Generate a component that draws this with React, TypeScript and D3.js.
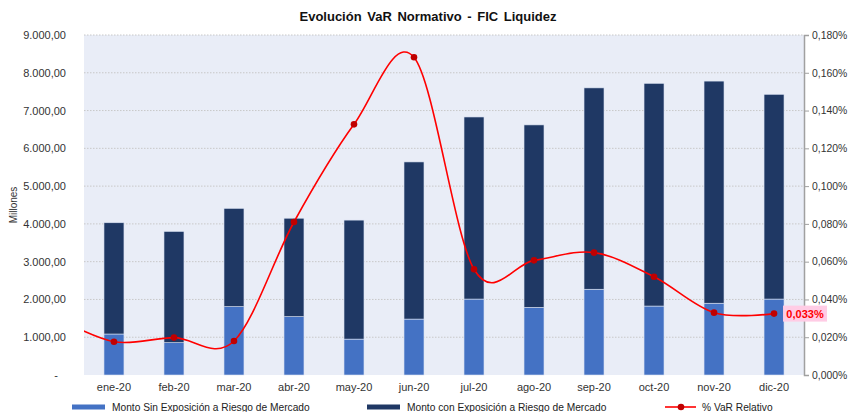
import React, { useRef, useEffect } from "react";
import * as d3 from "d3";

const months = ["ene-20", "feb-20", "mar-20", "abr-20", "may-20", "jun-20", "jul-20", "ago-20", "sep-20", "oct-20", "nov-20", "dic-20"];
// Millones
const sinExposicion = [1085, 855, 1810, 1545, 950, 1480, 2010, 1790, 2270, 1825, 1900, 2010];
const conExposicion = [2945, 2945, 2600, 2605, 3150, 4160, 4820, 4830, 5330, 5895, 5880, 5420];
// % VaR relativo
const varRelativo = [0.0176, 0.0198, 0.018, 0.081, 0.1327, 0.1682, 0.056, 0.0607, 0.0648, 0.052, 0.033, 0.0325];
const varPrevio = 0.031; // dic-19, only the tail of the curve shows
const leftTicks = [0, 1000, 2000, 3000, 4000, 5000, 6000, 7000, 8000, 9000];
const rightTicks = [0, 0.02, 0.04, 0.06, 0.08, 0.1, 0.12, 0.14, 0.16, 0.18];

const W = 848;
const H = 412;

const App = () => {
  const svgRef = useRef(null);

  useEffect(() => {
    const svg = d3.select(svgRef.current);
    svg.selectAll("*").remove();
    const margin = { top: 35, right: 44, bottom: 37, left: 84 };
    const width = W - margin.left - margin.right;
    const height = H - margin.top - margin.bottom;
    const font = "Liberation Sans, Arial, sans-serif";

    svg
      .append("text")
      .attr("x", 428)
      .attr("y", 21)
      .attr("text-anchor", "middle")
      .style("font-family", font)
      .style("font-size", "13px")
      .style("font-weight", "bold")
      .style("word-spacing", "2px")
      .attr("fill", "#111")
      .text("Evolución VaR Normativo - FIC Liquidez");

    const chart = svg.append("g").attr("transform", `translate(${margin.left},${margin.top})`);

    const x = d3.scaleBand().domain(months).range([0, width]).paddingInner(0.667).paddingOuter(0.333);
    const y = d3.scaleLinear().domain([0, 9000]).range([height, 0]);
    const yR = d3.scaleLinear().domain([0, 0.18]).range([height, 0]);

    chart.append("rect").attr("width", width).attr("height", height).attr("fill", "#E9EDF7");

    chart
      .selectAll(".grid")
      .data(leftTicks.slice(1))
      .enter()
      .append("line")
      .attr("x1", 0)
      .attr("x2", width)
      .attr("y1", (d) => y(d))
      .attr("y2", (d) => y(d))
      .attr("stroke", "#C8C8C8")
      .attr("stroke-dasharray", "1.5,1.5");

    // left axis
    const axL = chart
      .append("g")
      .call(
        d3
          .axisLeft(y)
          .tickValues(leftTicks)
          .tickSize(0)
          .tickPadding(18)
          .tickFormat((d) => (d === 0 ? "-" : d3.format(",.2f")(d).replace(/,/g, "#").replace(".", ",").replace(/#/g, ".")))
      );
    axL.select(".domain").remove();
    axL.selectAll("text").style("font-family", font).style("font-size", "11px").attr("fill", "#333");
    axL.selectAll(".tick").filter((d) => d === 0).select("text").attr("dx", -8);

    // right axis
    const axR = chart
      .append("g")
      .attr("transform", `translate(${width},0)`)
      .call(
        d3
          .axisRight(yR)
          .tickValues(rightTicks)
          .tickSize(5)
          .tickPadding(3)
          .tickFormat((d) => d3.format(".3f")(d).replace(".", ",") + "%")
      );
    axR.select(".domain").attr("stroke", "#A0A0A0").attr("stroke-width", 1.5);
    axR.selectAll("line").attr("stroke", "#A0A0A0");
    axR.selectAll("text").style("font-family", font).style("font-size", "10.4px").attr("fill", "#333");

    // x axis labels
    const axB = chart
      .append("g")
      .attr("transform", `translate(0,${height})`)
      .call(d3.axisBottom(x).tickSize(0).tickPadding(8));
    axB.select(".domain").remove();
    axB.selectAll("text").style("font-family", font).style("font-size", "11px").attr("fill", "#333");

    // stacked bars
    const rows = months.map((m, i) => ({ m, a: sinExposicion[i], b: conExposicion[i] }));
    const stacked = d3.stack().keys(["a", "b"])(rows);
    const colors = ["#4472C4", "#1F3864"];
    stacked.forEach((layer, li) => {
      chart
        .selectAll(".bar" + li)
        .data(layer)
        .enter()
        .append("rect")
        .attr("x", (d) => x(d.data.m))
        .attr("y", (d) => y(d[1]))
        .attr("width", x.bandwidth())
        .attr("height", (d) => y(d[0]) - y(d[1]))
        .attr("fill", colors[li])
        .attr("stroke", "#D9E1F2")
        .attr("stroke-width", 0.6);
    });

    // smoothed line, clipped to the plot
    svg
      .append("defs")
      .append("clipPath")
      .attr("id", "plotclip")
      .append("rect")
      .attr("width", width)
      .attr("height", height);

    const cx = (i) => x(months[0]) + x.bandwidth() / 2 + i * x.step();
    const pts = [varPrevio, ...varRelativo].map((v, i) => [cx(i - 1), yR(v)]);
    const line = d3.line().curve(d3.curveCardinal.tension(0));
    chart
      .append("path")
      .attr("d", line(pts))
      .attr("fill", "none")
      .attr("stroke", "#FF0000")
      .attr("stroke-width", 1.6)
      .attr("clip-path", "url(#plotclip)");

    chart
      .selectAll(".dot")
      .data(varRelativo)
      .enter()
      .append("circle")
      .attr("cx", (d, i) => cx(i))
      .attr("cy", (d) => yR(d))
      .attr("r", 3.3)
      .attr("fill", "#C00000");

    // label on last point
    const last = varRelativo.length - 1;
    const lx = cx(last) + 9;
    const ly = yR(varRelativo[last]);
    chart
      .append("rect")
      .attr("x", lx)
      .attr("y", ly - 8)
      .attr("width", 44)
      .attr("height", 16)
      .attr("fill", "#FFCCE5");
    chart
      .append("text")
      .attr("x", lx + 22)
      .attr("y", ly + 4)
      .attr("text-anchor", "middle")
      .style("font-family", font)
      .style("font-size", "11px")
      .style("font-weight", "bold")
      .attr("fill", "#FF0000")
      .text(d3.format(".3f")(varRelativo[last]).replace(".", ",") + "%");

    // y title
    svg
      .append("text")
      .attr("transform", `translate(17,${margin.top + height / 2}) rotate(-90)`)
      .attr("text-anchor", "middle")
      .style("font-family", font)
      .style("font-size", "10px")
      .attr("fill", "#333")
      .text("Millones");

    // legend
    const leg = svg.append("g").style("font-family", font).style("font-size", "10.2px");
    const ly0 = 407;
    [
      { x: 72, label: "Monto Sin Exposición a Riesgo de Mercado", c: colors[0] },
      { x: 367, label: "Monto con Exposición a Riesgo de Mercado", c: colors[1] },
    ].forEach((l) => {
      leg.append("rect").attr("x", l.x).attr("y", ly0 - 2.5).attr("width", 33).attr("height", 5).attr("fill", l.c);
      leg.append("text").attr("x", l.x + 40).attr("y", ly0 + 4).attr("fill", "#222").text(l.label);
    });
    leg.append("line").attr("x1", 665).attr("x2", 696).attr("y1", ly0).attr("y2", ly0).attr("stroke", "#FF0000").attr("stroke-width", 1.6);
    leg.append("circle").attr("cx", 681).attr("cy", ly0).attr("r", 3.3).attr("fill", "#C00000");
    leg.append("text").attr("x", 702).attr("y", ly0 + 4).attr("fill", "#222").text("% VaR Relativo");
  }, []);

  return (
    <svg ref={svgRef} width={W} height={H} style={{ position: "absolute", left: 0, top: 0, background: "#fff" }}></svg>
  );
};

export default App;
